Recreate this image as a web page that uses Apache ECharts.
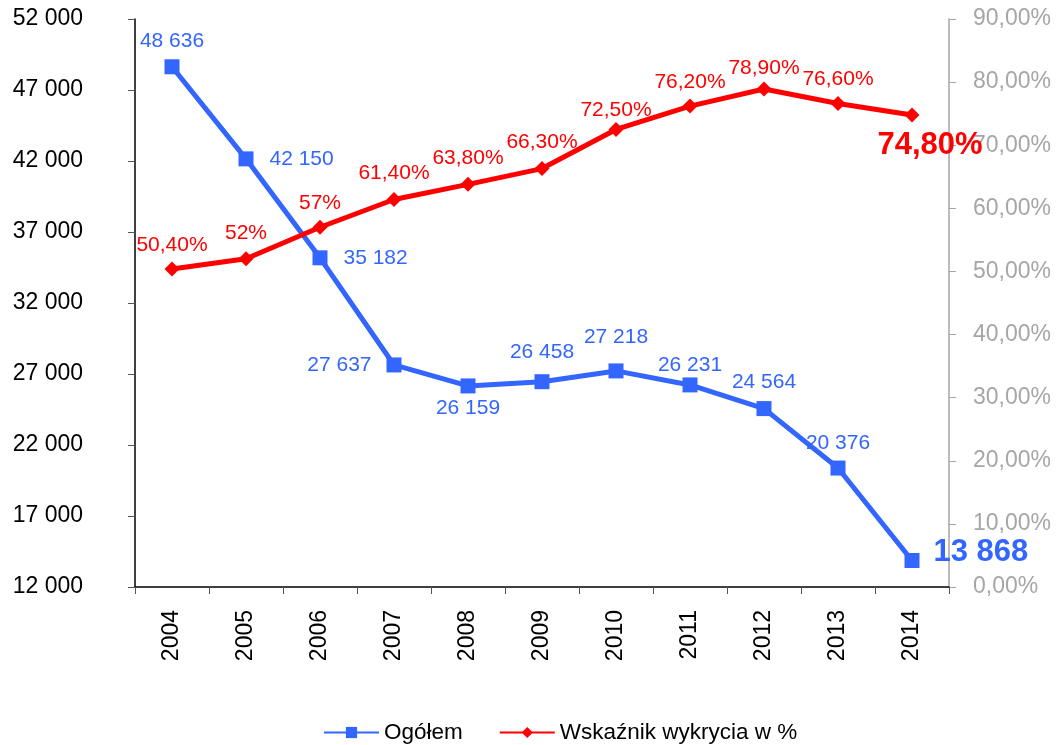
<!DOCTYPE html>
<html>
<head>
<meta charset="utf-8">
<script src="https://cdn.jsdelivr.net/npm/echarts@6/dist/echarts.min.js"></script>
<style>
  html, body { margin: 0; padding: 0; background: #fff; }
  #box { width: 1056px; height: 745px; }
</style>
</head>
<body>
<div id="box"></div>
<script>
// dane
const years = ['2004', '2005', '2006', '2007', '2008', '2009', '2010', '2011', '2012', '2013', '2014'];
const ogolem = [48636, 42150, 35182, 27637, 26159, 26458, 27218, 26231, 24564, 20376, 13868];
const wskaznik = [50.4, 52, 57, 61.4, 63.8, 66.3, 72.5, 76.2, 78.9, 76.6, 74.8];
const wskaznikLabels = ['50,40%', '52%', '57%', '61,40%', '63,80%', '66,30%', '72,50%', '76,20%', '78,90%', '76,60%', '74,80%'];

const BLUE = '#3366ff';
const RED = '#ff0000';
const FONT = 'Liberation Sans';

function fmtThousands(v) {
  return String(Math.round(v)).replace(/\B(?=(\d{3})+(?!\d))/g, ' ');
}

// polozenie etykiet niebieskiej serii
const blueLabelPos = [
  { position: 'top', distance: 8 },
  { position: 'right', distance: 16 },
  { position: 'right', distance: 16 },
  { position: 'left', distance: 15 },
  { position: 'bottom', distance: 4 },
  { position: 'top', distance: 11 },
  { position: 'top', distance: 16 },
  { position: 'top', distance: 2 },
  { position: 'top', distance: 8 },
  { position: 'top', distance: 7 },
  { position: 'right', distance: 14, offset: [0, -8], fontSize: 31, fontWeight: 'bold' }
];
const redLabelPos = [
  { distance: 6 }, { distance: 8 }, { distance: 6 }, { distance: 8 }, { distance: 8 },
  { distance: 8 }, { distance: 1 }, { distance: 6 }, { distance: 3 }, { distance: 6 },
  { position: 'bottom', distance: 8, offset: [18, 0], fontSize: 31, fontWeight: 'bold' }
];

const blueData = ogolem.map(function (v, i) {
  return { value: v, label: Object.assign({ show: true }, blueLabelPos[i]) };
});
const redData = wskaznik.map(function (v, i) {
  return {
    value: v,
    label: Object.assign({ show: true, position: 'top', formatter: wskaznikLabels[i] }, redLabelPos[i])
  };
});

let option = {
  backgroundColor: '#fff',
  animation: false,
  textStyle: { fontFamily: FONT },
  grid: { left: 135, right: 107, top: 19, bottom: 158, containLabel: false },
  legend: {
    top: 716,
    left: 318,
    itemWidth: 55,
    itemHeight: 14,
    itemGap: 36,
    textStyle: { fontFamily: FONT, fontSize: 22.5, color: '#000' },
    data: ['Ogółem', 'Wskaźnik wykrycia w %']
  },
  xAxis: {
    type: 'category',
    data: years,
    boundaryGap: true,
    axisLine: { lineStyle: { color: '#000', width: 1.5 } },
    axisTick: { show: true, length: 7, lineStyle: { color: '#555' } },
    axisLabel: { rotate: 90, margin: 23, fontSize: 23, color: '#000', fontFamily: FONT },
    splitLine: { show: false }
  },
  yAxis: [
    {
      type: 'value',
      min: 12000,
      max: 52000,
      interval: 5000,
      axisLine: { show: true, lineStyle: { color: '#000', width: 1.5 } },
      axisTick: { show: true, length: 7, lineStyle: { color: '#555' } },
      axisLabel: { fontSize: 23, color: '#000', margin: 52, fontFamily: FONT, formatter: fmtThousands },
      splitLine: { show: false }
    },
    {
      type: 'value',
      min: 0,
      max: 90,
      interval: 10,
      position: 'right',
      axisLine: { show: true, lineStyle: { color: '#a6a6a6', width: 1.5 } },
      axisTick: { show: true, length: 7, lineStyle: { color: '#a6a6a6' } },
      axisLabel: {
        fontSize: 23, color: '#a6a6a6', margin: 24, fontFamily: FONT,
        formatter: function (v) { return v.toFixed(2).replace('.', ',') + '%'; }
      },
      splitLine: { show: false }
    }
  ],
  series: [
    {
      name: 'Ogółem',
      type: 'line',
      yAxisIndex: 0,
      data: blueData,
      color: BLUE,
      symbol: 'rect',
      symbolSize: 15,
      lineStyle: { width: 5, color: BLUE },
      itemStyle: { color: BLUE },
      label: { show: true, color: BLUE, fontSize: 21, fontFamily: FONT, formatter: function (p) { return fmtThousands(p.value); } },
      z: 3
    },
    {
      name: 'Wskaźnik wykrycia w %',
      type: 'line',
      yAxisIndex: 1,
      data: redData,
      color: RED,
      symbol: 'diamond',
      symbolSize: 15,
      lineStyle: { width: 5, color: RED },
      itemStyle: { color: RED },
      label: { show: true, color: RED, fontSize: 21, fontFamily: FONT },
      z: 4
    }
  ]
};

let chart = echarts.init(document.getElementById('box'));
chart.setOption(option);
</script>
</body>
</html>
